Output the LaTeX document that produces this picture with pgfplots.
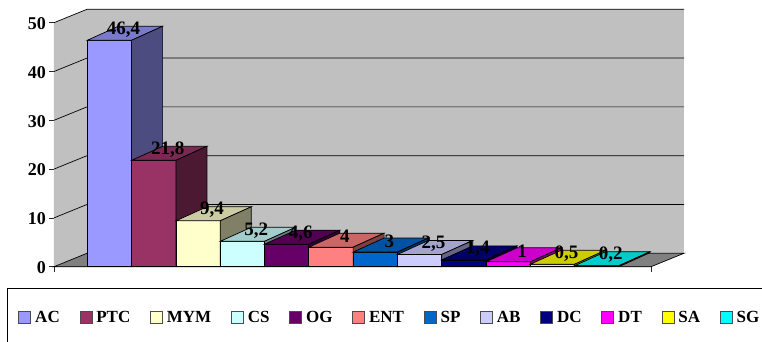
\documentclass[border=0pt]{standalone}
\usepackage{fontspec}
\setmainfont{Liberation Serif}
\usepackage{pgfplots}
\pgfplotsset{compat=1.18}

% Depth of a bar and of the chart box, in axis units
\def\bardx{0.70}
\def\bardy{2.87}
\def\boxdx{0.745}
\def\boxdy{2.75}

% Extruded bar: front face (legend entry), top face, side face
\newcommand{\extrudedbar}[4]{%
  \pgfmathsetmacro{\xa}{#1}%
  \pgfmathsetmacro{\xb}{#1+1}%
  \pgfmathsetmacro{\xc}{#1+1+\bardx}%
  \pgfmathsetmacro{\xd}{#1+\bardx}%
  \pgfmathsetmacro{\ya}{#2}%
  \pgfmathsetmacro{\yb}{#2+\bardy}%
  \addplot[fill=#3, draw=black, line width=0.7pt, mark=none]
    coordinates {(\xa,0) (\xb,0) (\xb,\ya) (\xa,\ya)} --cycle;
  \addlegendentry{#4}
  \addplot[fill=#3!80!black, draw=black, line width=0.7pt, mark=none, forget plot]
    coordinates {(\xa,\ya) (\xb,\ya) (\xc,\yb) (\xd,\yb)} --cycle;
  \addplot[fill=#3!50!black, draw=black, line width=0.7pt, mark=none, forget plot]
    coordinates {(\xb,0) (\xc,\bardy) (\xc,\yb) (\xb,\ya)} --cycle;
}

\definecolor{cAC}{HTML}{9999FF}
\definecolor{cPTC}{HTML}{993366}
\definecolor{cMYM}{HTML}{FFFFCC}
\definecolor{cCS}{HTML}{CCFFFF}
\definecolor{cOG}{HTML}{660066}
\definecolor{cENT}{HTML}{FF8080}
\definecolor{cSP}{HTML}{0066CC}
\definecolor{cAB}{HTML}{CCCCFF}
\definecolor{cDC}{HTML}{000080}
\definecolor{cDT}{HTML}{FF00FF}
\definecolor{cSA}{HTML}{FFFF00}
\definecolor{cSG}{HTML}{00FFFF}
\definecolor{wall}{HTML}{C0C0C0}
\definecolor{floorgray}{HTML}{808080}

\begin{document}
\begin{tikzpicture}
  % page frame
  \path[use as bounding box] (-54pt,-75.3pt) rectangle (708pt,266.7pt);
  \begin{axis}[
    at={(0,0)}, anchor=south west,
    scale only axis, width=597pt, height=244pt,
    xmin=-0.752, xmax=12.725, ymin=0, ymax=50,
    clip=false,
    axis y line*=left, axis x line*=bottom,
    axis line style={draw=black!75, line width=0.8pt, -},
    tick style={draw=black!85, line width=0.7pt},
    tick align=outside, major tick length=5pt,
    ytick={0,10,20,30,40,50},
    xtick={-0.752,12.725}, xticklabels={,},
    tick label style={font=\fontsize{18}{18}\selectfont\bfseries},
    /pgf/number format/assume math mode=true,
    yticklabel style={inner sep=0pt, xshift=-3pt, yshift=-1pt},
    legend columns=-1,
    legend cell align=left,
    legend style={
      at={(-0.0595,-0.207)}, anchor=west,
      draw=none, fill=none, inner sep=0pt, outer sep=0pt,
      font=\fontsize{17}{17}\selectfont\bfseries,
      /tikz/every even column/.append style={column sep=19.8pt},
      nodes={inner sep=0pt, outer sep=0pt},
    },
    legend image code/.code={
      \draw[#1, line width=0.8pt, draw=black!70] (0pt,-6pt) rectangle (12pt,6pt);
      \path (16pt,0pt);
    },
  ]
    % chart box: side wall, back wall, floor
    \addplot[fill=wall, draw=none, mark=none, forget plot]
      coordinates {(-0.752,0) (-0.007,2.75) (-0.007,52.75) (-0.752,50)} --cycle;
    \addplot[fill=wall, draw=none, mark=none, forget plot]
      coordinates {(-0.007,2.75) (13.47,2.75) (13.47,52.75) (-0.007,52.75)} --cycle;
    \addplot[fill=floorgray, draw=black, line width=0.7pt, mark=none, forget plot]
      coordinates {(-0.752,0) (-0.007,2.75) (13.47,2.75) (12.725,0)} --cycle;
    % gridlines across both walls
    \addplot[black, line width=0.7pt, mark=none, forget plot] coordinates {(-0.752,10) (-0.007,12.75) (13.47,12.75)};
    \addplot[black, line width=0.7pt, mark=none, forget plot] coordinates {(-0.752,20) (-0.007,22.75) (13.47,22.75)};
    \addplot[black, line width=0.7pt, mark=none, forget plot] coordinates {(-0.752,30) (-0.007,32.75) (13.47,32.75)};
    \addplot[black, line width=0.7pt, mark=none, forget plot] coordinates {(-0.752,40) (-0.007,42.75) (13.47,42.75)};
    \addplot[black, line width=0.7pt, mark=none, forget plot] coordinates {(-0.752,50) (-0.007,52.75) (13.47,52.75)};

    \extrudedbar{0}{46.4}{cAC}{AC}
    \extrudedbar{1}{21.8}{cPTC}{PTC}
    \extrudedbar{2}{9.4}{cMYM}{MYM}
    \extrudedbar{3}{5.2}{cCS}{CS}
    \extrudedbar{4}{4.6}{cOG}{OG}
    \extrudedbar{5}{4}{cENT}{ENT}
    \extrudedbar{6}{3}{cSP}{SP}
    \extrudedbar{7}{2.5}{cAB}{AB}
    \extrudedbar{8}{1.4}{cDC}{DC}
    \extrudedbar{9}{1}{cDT}{DT}
    \extrudedbar{10}{0.5}{cSA}{SA}
    \extrudedbar{11}{0.2}{cSG}{SG}

    % value labels, above the top face of each bar
    \addplot[draw=none, mark=none, forget plot,
      point meta=explicit symbolic,
      nodes near coords,
      nodes near coords align={anchor=center},
      every node near coord/.append style={
        font=\fontsize{19}{19}\selectfont\bfseries, black,
        inner sep=0pt, xshift=14pt, yshift=11pt},
    ] table[x=x, y=v, meta=lab, row sep=\\] {
      x v lab\\
      0.5 46.4 {46,4}\\
      1.5 21.8 {21,8}\\
      2.5 9.4 {9,4}\\
      3.5 5.2 {5,2}\\
      4.5 4.6 {4,6}\\
      5.5 4 {4}\\
      6.5 3 {3}\\
      7.5 2.5 {2,5}\\
      8.5 1.4 {1,4}\\
      9.5 1 {1}\\
      10.5 0.5 {0,5}\\
      11.5 0.2 {0,2}\\
    };
  \end{axis}
  % legend frame, running off the page to the right and below
  \draw[black, line width=0.9pt] (-47pt,-75.3pt) -- (-47pt,-21.3pt) -- (708pt,-21.3pt);
\end{tikzpicture}
\end{document}
